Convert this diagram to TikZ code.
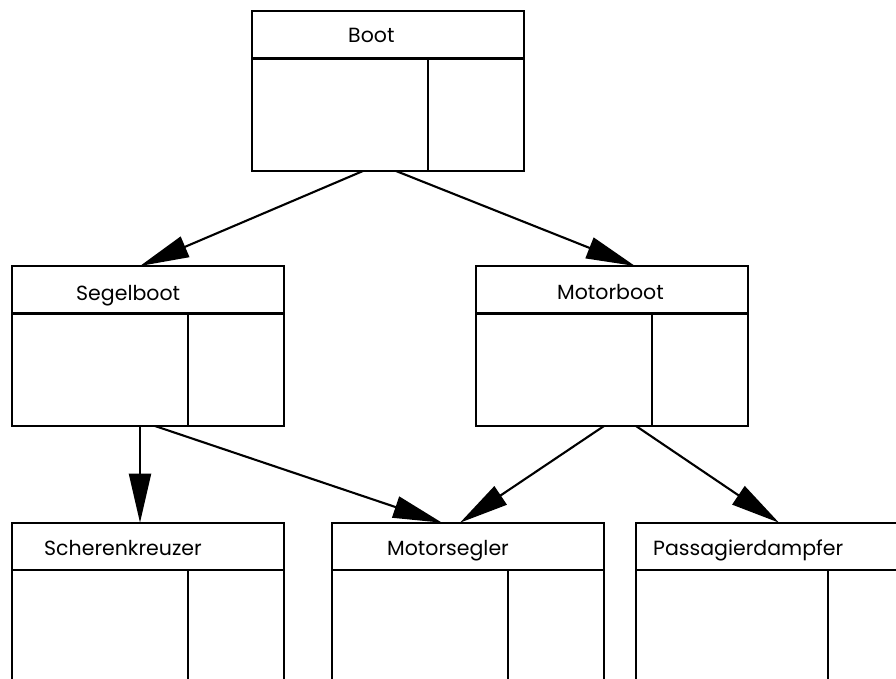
\documentclass[tikz,border=0pt]{standalone}
\usepackage{fontspec}
\setmainfont{Poppins}
\usetikzlibrary{calc,arrows.meta,positioning}
\newcommand\classparts[2]{% title line and divider of a class box
  \draw[line width=2.1pt]($(#1.north west)+(0,47.5)$)--($(#1.north east)+(0,47.5)$);
  \draw[line width=2.1pt]($(#1.north west)+(#2,47.5)$)--($(#1.south west)+(#2,0)$);}

\begin{document}
\begin{tikzpicture}[x=1pt,y=-1pt]
\tikzset{classbox/.style={draw,line width=2.1pt,minimum width=272pt,minimum height=160pt,
    anchor=north west,inner sep=0pt,outer sep=0pt},
  title/.style={anchor=base west,inner sep=0pt,font=\fontsize{20.5}{25}\selectfont},
  isa/.style={line width=2.1pt,-{Triangle[length=49pt,width=22pt]}}}
\useasboundingbox(0,0)rectangle(896,679);
\clip(0,0)rectangle(896,679);

\node[classbox](boot)at(252,11){};
\node[classbox](segel)at(11.7,266){};
\node[classbox](motor)at(475.7,266){};
\node[classbox](scheren)at(11.7,522.7){};
\node[classbox](msegler)at(331.7,522.7){};
\node[classbox,minimum width=297pt](dampfer)at(635.7,522.7){};

\foreach \cls/\off in {boot/176,segel/176,motor/176,scheren/176,msegler/176,dampfer/192}
  {\classparts{\cls}{\off}}

\node[title](bootT)at(348,43){Boot};
\node[title](segelT)at(76,300){Segelboot};
\node[title](motorT)at(557,299){Motorboot};
\node[title](scherenT)at(44,555){Scherenkreuzer};
\node[title](mseglerT)at(387,555){Motorsegler};
\node[title](dampferT)at(653,555){Passagierdampfer};

% ends of the arrows on the box borders
\coordinate(bootL)at($(boot.south west)+(111,0)$);
\coordinate(bootR)at($(boot.south west)+(144,0)$);
\coordinate(segelIn)at($(segel.north west)+(128.3,0)$);
\coordinate(motorIn)at($(motor.north west)+(159.3,0)$);
\coordinate(segelA)at($(segel.south west)+(128.3,0)$);
\coordinate(segelB)at($(segel.south west)+(143.3,0)$);
\coordinate(motorA)at($(motor.south west)+(128.3,0)$);
\coordinate(motorB)at($(motor.south west)+(160.3,0)$);
\coordinate(scherenIn)at($(scheren.north west)+(128.3,0)$);
\coordinate(mseglerL)at($(msegler.north west)+(110.3,0)$);
\coordinate(mseglerR)at($(msegler.north west)+(128.3,0)$);
\coordinate(dampferIn)at($(dampfer.north west)+(143.3,0)$);

\draw[isa](bootL)--(segelIn);
\draw[isa](bootR)--(motorIn);
\draw[isa](segelA)--(scherenIn);
\draw[isa](segelB)--(mseglerL);
\draw[isa](motorA)--(mseglerR);
\draw[isa](motorB)--(dampferIn);
\end{tikzpicture}
\end{document}
